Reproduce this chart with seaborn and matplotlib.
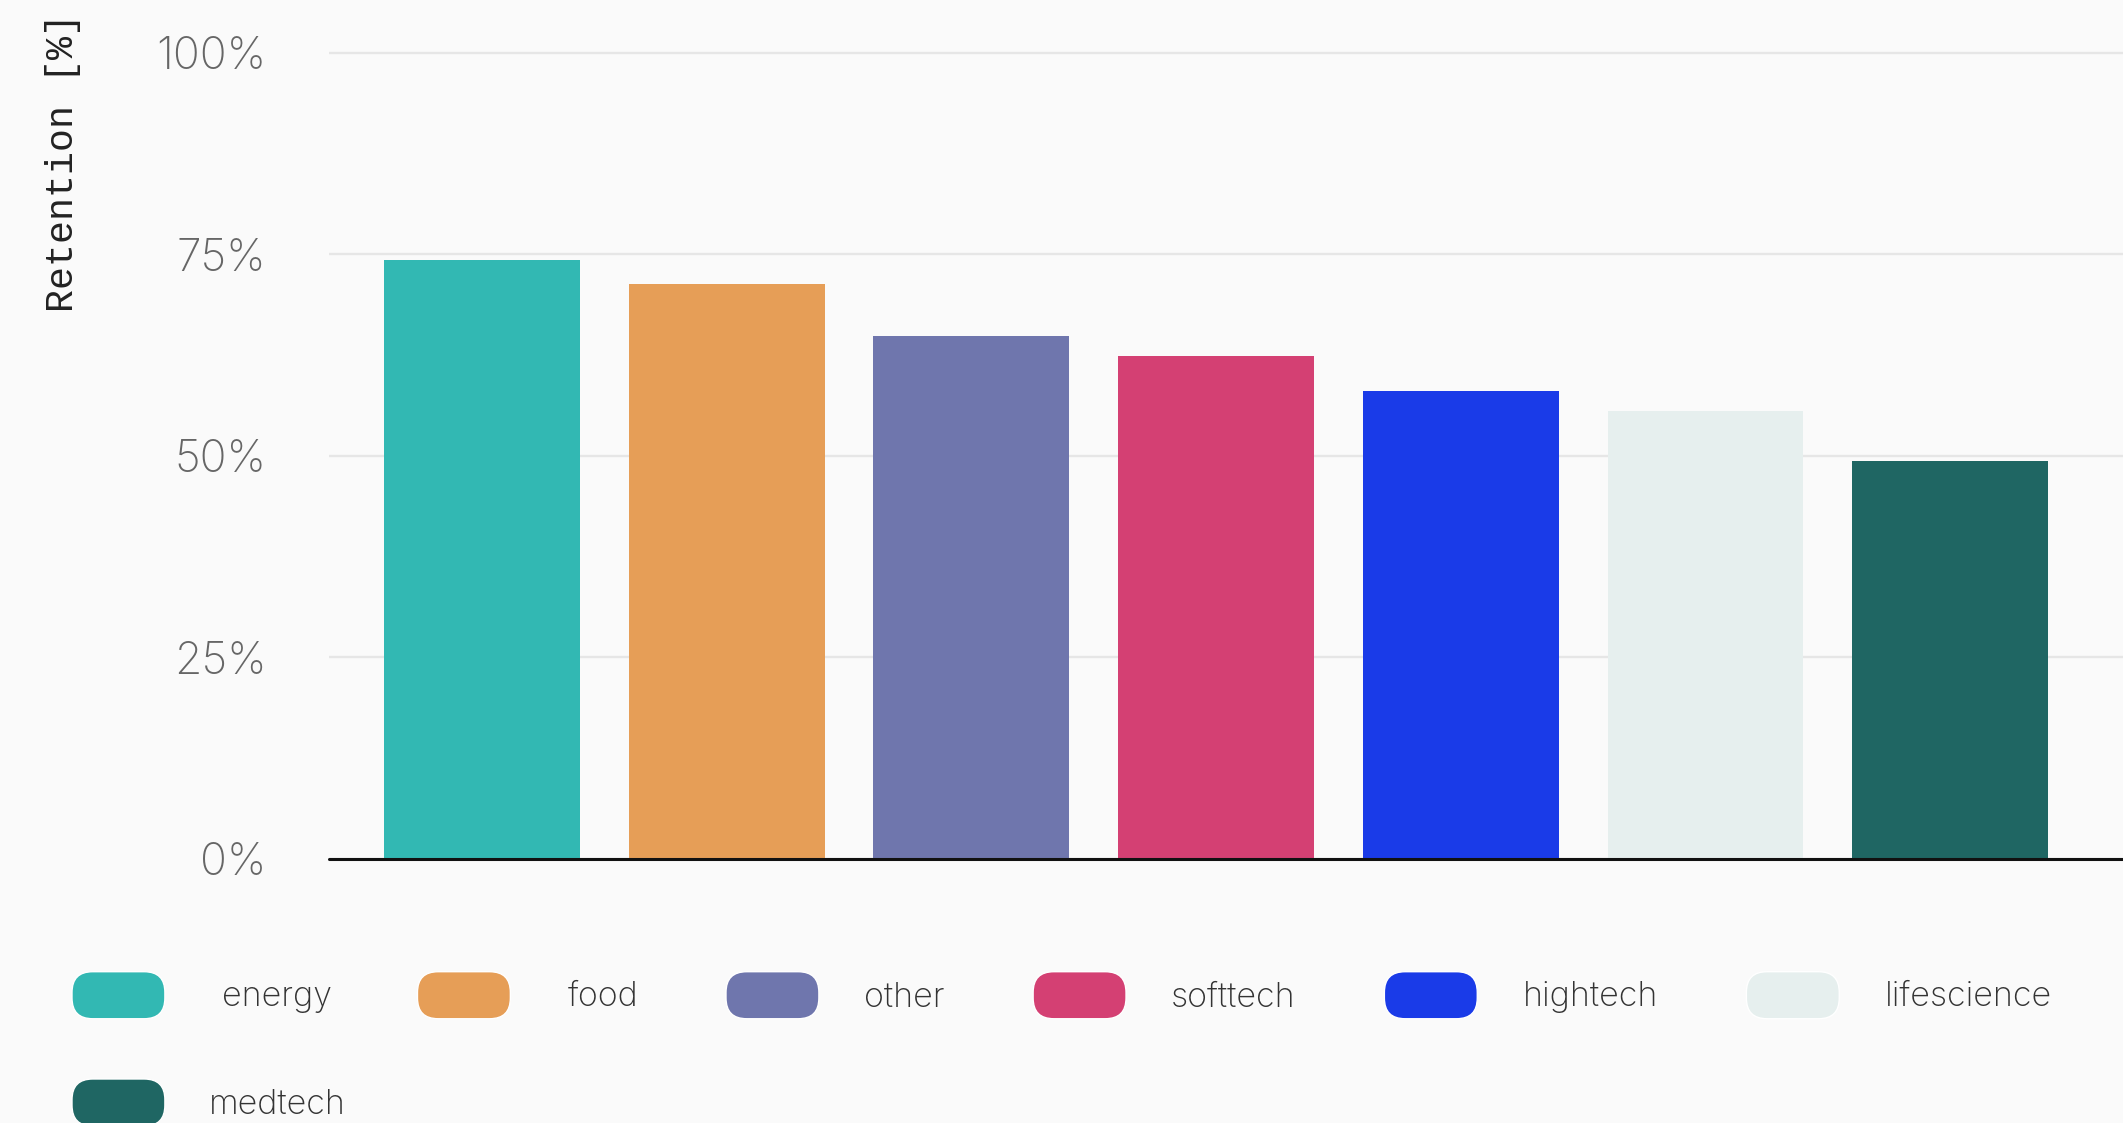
import matplotlib
matplotlib.use("Agg")
import matplotlib.pyplot as plt
from matplotlib.patches import Patch, FancyBboxPatch
from matplotlib.legend_handler import HandlerPatch
from matplotlib.ticker import FixedLocator, FuncFormatter
import seaborn as sns
import pandas as pd

# Retention by sector
sectors = ["energy", "food", "other", "softtech", "hightech", "lifescience", "medtech"]
retention = [74.3, 71.3, 64.9, 62.4, 58.0, 55.6, 49.4]
colors = ["#32B8B3", "#E69E57", "#6F76AD", "#D44073", "#1A3BE8", "#E6EFEE", "#1F6663"]
y_ticks = [0, 25, 50, 75, 100]
y_label = "Retention [%]"

BG = "#FAFAFA"

sns.set_style("white")
plt.rcParams["font.family"] = ["Inter", "DejaVu Sans"]

df = pd.DataFrame({"sector": sectors, "retention": retention})

fig = plt.figure(figsize=(21.23, 11.23), dpi=100, facecolor=BG)
ax = fig.add_axes([329 / 2123, 0.2353, 1 - 329 / 2123, 0.9573 - 0.2353])
ax.set_facecolor(BG)

sns.barplot(data=df, x="sector", y="retention", hue="sector",
            palette=dict(zip(sectors, colors)), saturation=1, width=0.8,
            linewidth=0, legend=False, ax=ax)

ax.set_xlim(-0.625, 6.706)
ax.set_ylim(0, 100.6)
ax.set_xlabel("")
ax.set_ylabel("")
ax.set_xticks([])

ax.yaxis.set_major_locator(FixedLocator(y_ticks))
ax.yaxis.set_major_formatter(FuncFormatter(lambda v, _: f"{v:.0f}%"))
ax.tick_params(axis="y", length=0, pad=45, labelsize=32, labelcolor="#666666")
for lbl in ax.get_yticklabels():
    lbl.set_fontweight("light")

ax.set_axisbelow(True)
ax.yaxis.grid(True, color="#E6E6E6", linewidth=1.7)
for s in ax.spines.values():
    s.set_visible(False)
ax.axhline(0, color="#111111", linewidth=2.2, zorder=5, clip_on=False)

# vertical axis title in monospace, top-aligned
fig.text(63 / 2123, 1 - 13 / 1123, y_label, rotation=90, ha="center", va="top",
         fontsize=27.5, color="#222222", family=["Liberation Mono", "DejaVu Sans Mono"])


# pill-shaped legend keys
def pill(legend, orig_handle, xdescent, ydescent, width, height, fontsize):
    return FancyBboxPatch((-xdescent, -ydescent), width, height,
                          boxstyle=f"round,pad=0,rounding_size={0.44 * height}",
                          linewidth=0)


handler = {Patch: HandlerPatch(patch_func=pill)}
handles = [Patch(facecolor=c, label=s) for s, c in zip(sectors, colors)]

leg_kw = dict(frameon=False, fontsize=24.5, handlelength=2.73, handleheight=1.75,
              borderpad=0, borderaxespad=0, labelcolor="#333333",
              handler_map=handler, bbox_transform=fig.transFigure, loc="upper left")

row1_top = (1123 - 971.7) / 1123
row2_top = (1123 - 1079) / 1123
legends = [
    fig.legend(handles=handles[:2], ncol=2, handletextpad=1.69, columnspacing=2.5,
               bbox_to_anchor=(72 / 2123, row1_top), **leg_kw),
    fig.legend(handles=handles[2:6], ncol=4, handletextpad=1.33, columnspacing=2.6,
               bbox_to_anchor=(726 / 2123, row1_top), **leg_kw),
    fig.legend(handles=handles[6:], ncol=1, handletextpad=1.3,
               bbox_to_anchor=(72 / 2123, row2_top), **leg_kw),
]
for leg in legends:
    for t in leg.get_texts():
        t.set_fontweight("light")

fig.savefig("out.png", dpi=100, facecolor=BG)
